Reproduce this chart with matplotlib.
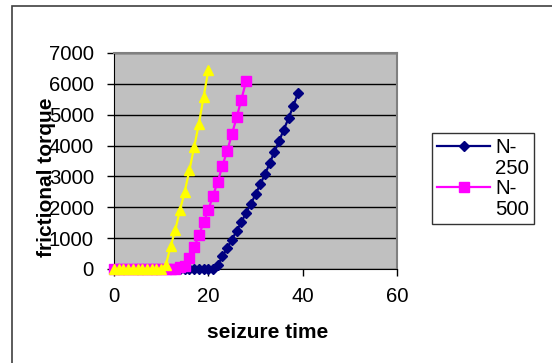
import matplotlib
matplotlib.use("Agg")
import matplotlib.pyplot as plt
from matplotlib.patches import Rectangle
from matplotlib.lines import Line2D

plt.rcParams['font.family'] = ['Liberation Sans', 'DejaVu Sans']

# seizure time (x) and frictional torque (y) for each load
x_250 = list(range(0, 40))
y_250 = [0] * 22 + [120, 410, 680, 950, 1240, 1510, 1830, 2100, 2420, 2740,
                    3070, 3420, 3800, 4140, 4520, 4880, 5280, 5690]

x_500 = list(range(0, 29))
y_500 = [0] * 14 + [50, 90, 355, 710, 1090, 1510, 1920, 2380, 2830, 3350,
                    3830, 4370, 4910, 5490, 6080]

x_750 = list(range(0, 21))
y_750 = [0] * 11 + [140, 730, 1270, 1920, 2510, 3210, 3960, 4710, 5580, 6440]

xticks = [0, 20, 40, 60]
yticks = [0, 1000, 2000, 3000, 4000, 5000, 6000, 7000]

fig = plt.figure(figsize=(5.52, 3.63), dpi=100)
ax = fig.add_axes([114/552, 1 - 269/363, 283/552, 216/363])

# outer chart border (only top and left visible in the original)
fig.patches.append(Rectangle((11.5/552, -0.1), 1.2, 1 - 6/363 + 0.1,
                             transform=fig.transFigure, fill=False,
                             edgecolor='#404040', linewidth=1.2))

ax.set_facecolor('#C0C0C0')
l250, = ax.plot(x_250, y_250, color='#000080', marker='D', markersize=5.5,
                linewidth=1.6, zorder=3, clip_on=False)
l500, = ax.plot(x_500, y_500, color='#FF00FF', marker='s', markersize=7,
                linewidth=1.6, zorder=4, clip_on=False)
ax.plot(x_750, y_750, color='#FFFF00', marker='^', markersize=7.5,
        linewidth=1.6, zorder=5, clip_on=False)

ax.set_xlim(0, 60)
ax.set_ylim(0, 7000)
ax.set_xticks(xticks)
ax.set_yticks(yticks)
ax.tick_params(axis='y', labelsize=14.7, direction='out', length=5, width=1, pad=9.5)
ax.tick_params(axis='x', labelsize=14.7, direction='out', length=5, width=1, pad=8)
ax.yaxis.grid(True, color='black', linewidth=1)
ax.set_axisbelow(True)
for s in ['top', 'right']:
    ax.spines[s].set_color('#808080')
    ax.spines[s].set_linewidth(1.5)
for s in ['left', 'bottom']:
    ax.spines[s].set_color('black')

fig.text(268/552, 1 - 332/363, 'seizure time', fontsize=15, fontweight='bold',
         ha='center', va='center')
fig.text(47/552, 1 - 177/363, 'frictional torque', rotation=90, fontsize=15,
         fontweight='bold', ha='center', va='center')

blank = Line2D([], [], linestyle='none')
leg = ax.legend([l250, blank, l500, blank], ['N-', '250', 'N-', '500'],
                loc='upper left', bbox_to_anchor=(432/552, 1 - 133/363),
                bbox_transform=fig.transFigure, fontsize=14.7, frameon=True,
                fancybox=False, edgecolor='black', handlelength=2.6,
                borderpad=0.25, labelspacing=0.08, handletextpad=0.25,
                borderaxespad=0)
leg.get_frame().set_linewidth(1)

fig.savefig('out.png', dpi=100)
